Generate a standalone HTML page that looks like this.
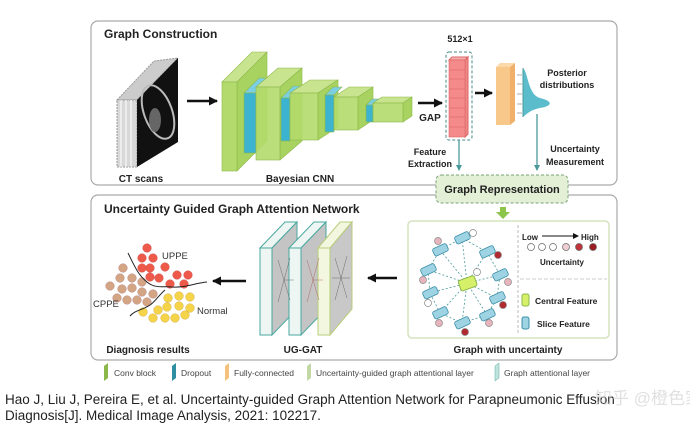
<!DOCTYPE html>
<html><head><meta charset="utf-8"><style>
html,body{margin:0;padding:0;background:#fff;width:690px;height:426px;overflow:hidden}
svg{display:block}
.b{font-family:"Liberation Sans",Arial,sans-serif;font-weight:bold;fill:#222}
.n{font-family:"Liberation Sans",Arial,sans-serif;fill:#333}
</style></head><body>
<svg width="690" height="426" viewBox="0 0 690 426" xmlns="http://www.w3.org/2000/svg">
<defs>
<marker id="ah" markerUnits="userSpaceOnUse" markerWidth="9" markerHeight="9" refX="8" refY="4.5" orient="auto"><path d="M0,0 L9,4.5 L0,9z" fill="#111"/></marker>
<marker id="as" markerUnits="userSpaceOnUse" markerWidth="6" markerHeight="6" refX="5" refY="3" orient="auto"><path d="M0,0 L6,3 L0,6z" fill="#111"/></marker>
<marker id="at" markerUnits="userSpaceOnUse" markerWidth="6" markerHeight="6" refX="5" refY="3" orient="auto"><path d="M0,0 L6,3 L0,6z" fill="#4a9a9a"/></marker>
</defs>
<rect x="91" y="21" width="526" height="164" rx="7" fill="#fff" stroke="#aaa" stroke-width="1.2"/>
<rect x="91" y="195" width="526" height="165" rx="7" fill="#fff" stroke="#aaa" stroke-width="1.2"/>
<text x="104" y="38" class="b" font-size="12">Graph Construction</text>
<text x="104" y="213" class="b" font-size="12">Uncertainty Guided Graph Attention Network</text>

<polygon points="117,100 154,61 178,58 137,100" fill="#ccc" stroke="#999" stroke-dasharray="2,1"/>
<rect x="117" y="100" width="20" height="67" fill="#d8d8d8" stroke="#999" stroke-dasharray="2,1"/>
<line x1="121" y1="100" x2="121" y2="167" stroke="#fff"/><line x1="126" y1="100" x2="126" y2="167" stroke="#fff"/><line x1="131" y1="100" x2="131" y2="167" stroke="#fff"/>
<polygon points="137,100 178,58 178,142 137,167" fill="#111"/>
<ellipse cx="158" cy="112" rx="14" ry="28" fill="none" stroke="#bbb" stroke-width="2" transform="rotate(-20 158 112)"/>
<ellipse cx="155" cy="120" rx="6" ry="12" fill="#666"/>
<text x="141" y="182" class="b" font-size="10" text-anchor="middle">CT scans</text>
<line x1="187" y1="101" x2="217" y2="101" stroke="#111" stroke-width="2.5" marker-end="url(#ah)"/>

<g stroke="#8cb84a" stroke-width="0.6">
<polygon points="222,82 252,52 267,52 237,82" fill="#c9e48f"/><polygon points="237,82 267,52 267,141 237,171" fill="#a8d360"/><rect x="222" y="82" width="15" height="89" fill="#b3da6c"/>
<polygon points="244,93 259,78 271,78 256,93" fill="#7ccfe0"/><rect x="244" y="93" width="12" height="60" fill="#3cb3cf"/>
<polygon points="256,87 278,68 302,68 280,87" fill="#c9e48f"/><polygon points="280,87 302,68 302,141 280,160" fill="#a8d360"/><rect x="256" y="87" width="24" height="73" fill="#b3da6c" fill-opacity="0.9"/>
<polygon points="281,98 293,86 302,86 290,98" fill="#7ccfe0"/><rect x="281" y="98" width="9" height="43" fill="#3cb3cf"/>
<polygon points="290,93 310,80 338,80 318,93" fill="#c9e48f"/><polygon points="318,93 338,80 338,127 318,140" fill="#a8d360"/><rect x="290" y="93" width="28" height="47" fill="#b3da6c" fill-opacity="0.9"/>
<polygon points="325,95 333,87 342,87 334,95" fill="#7ccfe0"/><rect x="325" y="95" width="9" height="37" fill="#3cb3cf"/>
<polygon points="334,97 349,87 373,87 358,97" fill="#c9e48f"/><polygon points="358,97 373,87 373,120 358,130" fill="#a8d360"/><rect x="334" y="97" width="24" height="33" fill="#b3da6c" fill-opacity="0.9"/>
<polygon points="366,105 372,99 379,99 373,105" fill="#7ccfe0"/><rect x="366" y="105" width="7" height="17" fill="#3cb3cf"/>
<polygon points="373,103 382,97 412,97 403,103" fill="#c9e48f"/><polygon points="403,103 412,97 412,116 403,122" fill="#a8d360"/><rect x="373" y="103" width="30" height="19" fill="#b3da6c" fill-opacity="0.9"/>
</g>
<text x="300" y="182" class="b" font-size="10" text-anchor="middle">Bayesian CNN</text>

<line x1="418" y1="103" x2="442" y2="103" stroke="#111" stroke-width="2.5" marker-end="url(#ah)"/>
<text x="430" y="121" class="b" font-size="10" text-anchor="middle">GAP</text>
<text x="460" y="42" class="b" font-size="9" text-anchor="middle">512×1</text>
<rect x="446" y="52" width="26" height="88" rx="3" fill="none" stroke="#4a8a8a" stroke-dasharray="3,2"/>
<polygon points="449,60 452,57 468,57 465,60" fill="#f7b0b0" stroke="#d66"/>
<polygon points="465,60 468,57 468,134 465,137" fill="#e88" stroke="#d66"/>
<rect x="449" y="60" width="16" height="77" fill="#f48a8a" stroke="#d66" stroke-width="0.6"/>
<g stroke="#d66" stroke-width="0.6"><line x1="449" y1="70" x2="465" y2="70"/><line x1="449" y1="79" x2="465" y2="79"/><line x1="449" y1="89" x2="465" y2="89"/><line x1="449" y1="98" x2="465" y2="98"/><line x1="449" y1="108" x2="465" y2="108"/><line x1="449" y1="117" x2="465" y2="117"/><line x1="449" y1="127" x2="465" y2="127"/></g>
<line x1="475" y1="93" x2="492" y2="93" stroke="#111" stroke-width="2.5" marker-end="url(#ah)"/>
<polygon points="496,67 500,63 515,63 510,67" fill="#fbd9a8"/>
<polygon points="510,67 515,63 515,121 510,125" fill="#f0b06a"/>
<rect x="496" y="67" width="14" height="58" fill="#f8c88a"/>
<g stroke="#777" stroke-width="0.6"><line x1="517" y1="75" x2="522" y2="75"/><line x1="517" y1="84" x2="522" y2="84"/><line x1="517" y1="94" x2="522" y2="94"/><line x1="517" y1="104" x2="522" y2="104"/><line x1="517" y1="113" x2="522" y2="113"/></g>
<path d="M523,68 C528,72 528,95 540,98 C553,101 553,106 540,108 C530,110 527,114 523,117 Z" fill="#5bbccc"/>
<line x1="523" y1="68" x2="523" y2="117" stroke="#4a9a9a"/>
<text x="567" y="76" class="b" font-size="9" text-anchor="middle">Posterior</text>
<text x="567" y="88" class="b" font-size="9" text-anchor="middle">distributions</text>
<line x1="459" y1="140" x2="459" y2="170" stroke="#4a9a9a" stroke-width="1.3" marker-end="url(#at)"/>
<line x1="537" y1="114" x2="537" y2="170" stroke="#4a9a9a" stroke-width="1.3" marker-end="url(#at)"/>
<text x="430" y="155" class="b" font-size="9" text-anchor="middle">Feature</text>
<text x="430" y="167" class="b" font-size="9" text-anchor="middle">Extraction</text>
<text x="575" y="152" class="b" font-size="9" text-anchor="middle">Uncertainty</text>
<text x="575" y="165" class="b" font-size="9" text-anchor="middle">Measurement</text>
<rect x="436" y="175" width="132" height="28" rx="5" fill="#e3f0d6" stroke="#7aa27a" stroke-dasharray="3,2"/>
<text x="502" y="193" class="b" font-size="11" text-anchor="middle">Graph Representation</text>
<polygon points="500,207 506,207 506,212 510,212 503,219 496,212 500,212" fill="#8dc44a"/>

<rect x="408" y="221" width="201" height="117" rx="4" fill="#fff" stroke="#d5e3bf" stroke-width="1.5"/>
<g stroke="#4a9a9a" stroke-width="0.8" stroke-dasharray="2,2">
<line x1="467" y1="283" x2="462" y2="238"/><line x1="467" y1="283" x2="440" y2="250"/><line x1="467" y1="283" x2="487" y2="252"/><line x1="467" y1="283" x2="428" y2="270"/><line x1="467" y1="283" x2="500" y2="275"/><line x1="467" y1="283" x2="430" y2="293"/><line x1="467" y1="283" x2="497" y2="298"/><line x1="467" y1="283" x2="440" y2="313"/><line x1="467" y1="283" x2="487" y2="315"/><line x1="467" y1="283" x2="462" y2="323"/>
<polyline points="462,238 487,252 500,275 497,298 487,315 462,323 440,313 430,293 428,270 440,250 462,238" fill="none"/>
</g>
<g fill="#9ed3e3" stroke="#3c8fa8" stroke-width="0.8">
<rect x="455" y="234" width="15" height="8" rx="2" transform="rotate(-25 462 238)"/>
<rect x="433" y="246" width="15" height="8" rx="2" transform="rotate(-25 440 250)"/>
<rect x="480" y="248" width="15" height="8" rx="2" transform="rotate(-25 487 252)"/>
<rect x="421" y="266" width="15" height="8" rx="2" transform="rotate(-25 428 270)"/>
<rect x="493" y="271" width="15" height="8" rx="2" transform="rotate(-25 500 275)"/>
<rect x="423" y="289" width="15" height="8" rx="2" transform="rotate(-25 430 293)"/>
<rect x="490" y="294" width="15" height="8" rx="2" transform="rotate(-25 497 298)"/>
<rect x="433" y="309" width="15" height="8" rx="2" transform="rotate(-25 440 313)"/>
<rect x="480" y="311" width="15" height="8" rx="2" transform="rotate(-25 487 315)"/>
<rect x="455" y="319" width="15" height="8" rx="2" transform="rotate(-25 462 323)"/>
</g>
<rect x="459" y="278" width="17" height="11" rx="2" fill="#d6f06a" stroke="#8cb84a" transform="rotate(-20 467 283)"/>
<g stroke="#888" stroke-width="0.7">
<circle cx="473" cy="233" r="3.5" fill="#fff"/><circle cx="438" cy="241" r="3.5" fill="#e8b5bf"/><circle cx="498" cy="255" r="3.5" fill="#b02a30"/><circle cx="423" cy="280" r="3.5" fill="#e8b5bf"/><circle cx="508" cy="282" r="3.5" fill="#e8b5bf"/><circle cx="477" cy="272" r="3.5" fill="#fff"/><circle cx="428" cy="303" r="3.5" fill="#fff"/><circle cx="503" cy="305" r="3.5" fill="#b02a30"/><circle cx="439" cy="323" r="3.5" fill="#e8b5bf"/><circle cx="489" cy="323" r="3.5" fill="#e8b5bf"/><circle cx="465" cy="332" r="3.5" fill="#b02a30"/>
</g>
<line x1="518" y1="225" x2="518" y2="335" stroke="#bbb" stroke-dasharray="3,2"/>
<line x1="520" y1="279" x2="607" y2="279" stroke="#ccc" stroke-dasharray="4,2"/>
<text x="522" y="240" class="b" font-size="8">Low</text>
<line x1="542" y1="236" x2="578" y2="236" stroke="#111" stroke-width="1" marker-end="url(#as)"/>
<text x="581" y="240" class="b" font-size="8">High</text>
<g stroke="#666" stroke-width="0.7"><circle cx="531" cy="247" r="3.5" fill="#fff"/><circle cx="542" cy="247" r="3.5" fill="#fff"/><circle cx="553" cy="247" r="3.5" fill="#fff"/><circle cx="566" cy="247" r="3.5" fill="#f0cdd2"/><circle cx="579" cy="247" r="3.5" fill="#c0333a"/><circle cx="593" cy="247" r="3.5" fill="#9a1c22"/></g>
<text x="562" y="265" class="b" font-size="8" text-anchor="middle">Uncertainty</text>
<rect x="522" y="294" width="7" height="12" rx="2" fill="#d6f06a" stroke="#8cb84a"/>
<text x="535" y="304" class="b" font-size="8.5">Central  Feature</text>
<rect x="522" y="317" width="7" height="12" rx="2" fill="#9ed3e3" stroke="#3c8fa8"/>
<text x="537" y="327" class="b" font-size="8.5">Slice Feature</text>
<text x="508" y="353" class="b" font-size="10" text-anchor="middle">Graph with uncertainty</text>
<line x1="397" y1="278" x2="368" y2="278" stroke="#111" stroke-width="2.5" marker-end="url(#ah)"/>

<g>
<polygon points="260,248 285,222 297,222 272,248" fill="#eef6f4" stroke="#4aa8a0"/>
<polygon points="272,248 297,222 297,309 272,335" fill="#c4c4c4" stroke="#4aa8a0"/>
<rect x="260" y="248" width="12" height="87" fill="#eef6f4" stroke="#4aa8a0"/>
<polygon points="289,248 314,222 326,222 301,248" fill="#eef6f4" stroke="#4aa8a0"/>
<polygon points="301,248 326,222 326,309 301,335" fill="#c4c4c4" stroke="#4aa8a0"/>
<rect x="289" y="248" width="12" height="87" fill="#eef6f4" stroke="#4aa8a0"/>
<polygon points="318,248 340,222 352,222 330,248" fill="#f3f7e0" stroke="#b8cc7a"/>
<polygon points="330,248 352,222 352,309 330,335" fill="#c8c8c8" stroke="#b8cc7a"/>
<rect x="318" y="248" width="12" height="87" fill="#f3f7e0" stroke="#b8cc7a"/>
<g stroke="#555" stroke-width="0.4" fill="none"><path d="M284,280 l-6,-20 M284,280 l6,-22 M284,280 l-6,22 M284,280 l6,20 M284,280 l10,0"/><path d="M313,280 l-6,-20 M313,280 l6,-22 M313,280 l-6,22 M313,280 l6,20 M313,280 l10,0" stroke="#a55"/><path d="M341,278 l-6,-20 M341,278 l6,-22 M341,278 l-6,22 M341,278 l6,20 M341,278 l9,0 M341,278 l-9,0"/></g>
</g>
<text x="303" y="353" class="b" font-size="10" text-anchor="middle">UG-GAT</text>
<line x1="246" y1="281" x2="213" y2="281" stroke="#111" stroke-width="2.5" marker-end="url(#ah)"/>

<g fill="#ee5a4a" stroke="#c44" stroke-width="0.4">
<circle cx="147" cy="248" r="4.3"/><circle cx="142" cy="258" r="4.3"/><circle cx="153" cy="258" r="4.3"/><circle cx="142" cy="268" r="4.3"/><circle cx="150" cy="268" r="4.3"/><circle cx="165" cy="267" r="4.3"/><circle cx="150" cy="277" r="4.3"/><circle cx="159" cy="278" r="4.3"/><circle cx="177" cy="275" r="4.3"/><circle cx="188" cy="275" r="4.3"/><circle cx="170" cy="284" r="4.3"/><circle cx="184" cy="284" r="4.3"/></g>
<g fill="#d4a585" stroke="#a77" stroke-width="0.4">
<circle cx="123" cy="268" r="4.3"/><circle cx="120" cy="278" r="4.3"/><circle cx="132" cy="278" r="4.3"/><circle cx="142" cy="282" r="4.3"/><circle cx="110" cy="286" r="4.3"/><circle cx="122" cy="289" r="4.3"/><circle cx="132" cy="288" r="4.3"/><circle cx="142" cy="292" r="4.3"/><circle cx="153" cy="294" r="4.3"/><circle cx="117" cy="298" r="4.3"/><circle cx="127" cy="300" r="4.3"/><circle cx="137" cy="300" r="4.3"/><circle cx="147" cy="302" r="4.3"/></g>
<g fill="#f6d44a" stroke="#c9a22a" stroke-width="0.4">
<circle cx="168" cy="298" r="4.3"/><circle cx="179" cy="296" r="4.3"/><circle cx="190" cy="297" r="4.3"/><circle cx="167" cy="307" r="4.3"/><circle cx="179" cy="306" r="4.3"/><circle cx="190" cy="308" r="4.3"/><circle cx="143" cy="312" r="4.3"/><circle cx="158" cy="310" r="4.3"/><circle cx="153" cy="318" r="4.3"/><circle cx="165" cy="318" r="4.3"/><circle cx="175" cy="318" r="4.3"/><circle cx="185" cy="315" r="4.3"/></g>
<path d="M128,253 C134,265 138,275 147,282 C155,289 165,286 172,287 C185,288 195,283 207,282" fill="none" stroke="#222" stroke-width="1"/>
<path d="M165,290 C158,296 155,302 150,305 C143,310 135,310 130,316" fill="none" stroke="#222" stroke-width="1"/>
<text x="162" y="259" class="n" font-size="9.5">UPPE</text>
<text x="93" y="307" class="n" font-size="9.5">CPPE</text>
<text x="197" y="314" class="n" font-size="9.5">Normal</text>
<text x="148" y="353" class="b" font-size="10" text-anchor="middle">Diagnosis results</text>

<g font-family="Liberation Sans,Arial,sans-serif" font-size="8.5" fill="#444">
<polygon points="104,366 108,363 108,378 104,381" fill="#8cb84a"/><text x="114" y="376">Conv block</text>
<polygon points="172,366 176,363 176,378 172,381" fill="#2f8fa0"/><text x="181" y="376">Dropout</text>
<polygon points="225,366 229,363 229,378 225,381" fill="#f5c27e"/><text x="234" y="376">Fully-connected</text>
<polygon points="307,366 311,363 311,378 307,381" fill="#c4d8a6"/><text x="316" y="376">Uncertainty-guided graph attentional layer</text>
<polygon points="495,366 499,363 499,378 495,381" fill="#bfe3dd" stroke="#5aa8a0" stroke-width="0.5"/><text x="504" y="376">Graph attentional layer</text>
</g>
<g font-family="Liberation Sans,Arial,sans-serif" font-size="13.5" fill="#222">
<text x="5" y="404">Hao J, Liu J, Pereira E, et al. Uncertainty-guided Graph Attention Network for Parapneumonic Effusion</text>
<text x="5" y="420">Diagnosis[J]. Medical Image Analysis, 2021: 102217.</text>
</g>
<text x="595" y="404" font-family="Liberation Sans,'Noto Sans CJK SC',sans-serif" font-size="17" fill="#ccc" fill-opacity="0.6">知乎 @橙色家</text>
</svg>
</body></html>
